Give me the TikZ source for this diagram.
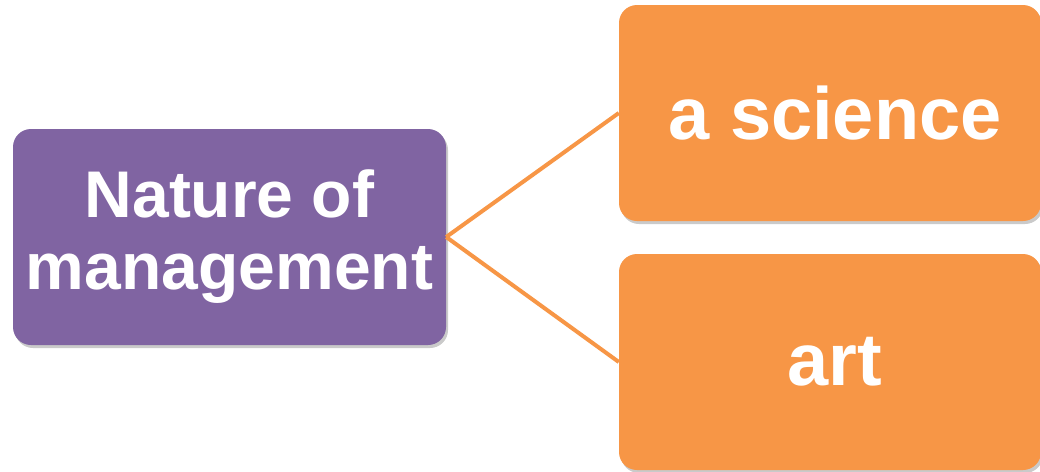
\documentclass[tikz,border=0pt]{standalone}
\usepackage{fontspec}
\setmainfont{Liberation Sans}
\usetikzlibrary{shadows}
\definecolor{boxpurple}{HTML}{8064A2}
\definecolor{boxorange}{HTML}{F79646}
\begin{document}
\begin{tikzpicture}[x=1pt,y=-1pt,
  card/.style={rounded corners=18pt, inner sep=0pt, draw=none,
    drop shadow={shadow xshift=2pt, shadow yshift=-3pt, opacity=0.35, fill=black!60},
    text=white, align=center, font=\bfseries},
  link/.style={draw=boxorange, line width=4pt}]
\useasboundingbox (0,0) rectangle (1040,471);
\node[card, fill=boxpurple, minimum width=433pt, minimum height=216pt,
  font=\bfseries\fontsize{66}{72}\selectfont] (nat) at (229.5,237) {Nature of\\management};
\node[card, fill=boxorange, minimum width=422pt, minimum height=216pt,
  font=\bfseries\fontsize{74}{80}\selectfont] (sci) at (830,113) {\hspace*{10pt}a science};
\node[card, fill=boxorange, minimum width=422pt, minimum height=216pt,
  font=\bfseries\fontsize{74}{80}\selectfont] (art) at (830,362) {\hspace*{10pt}art};
\draw[link] (nat.east) -- (sci.west);
\draw[link] (nat.east) -- (art.west);
\end{tikzpicture}
\end{document}
